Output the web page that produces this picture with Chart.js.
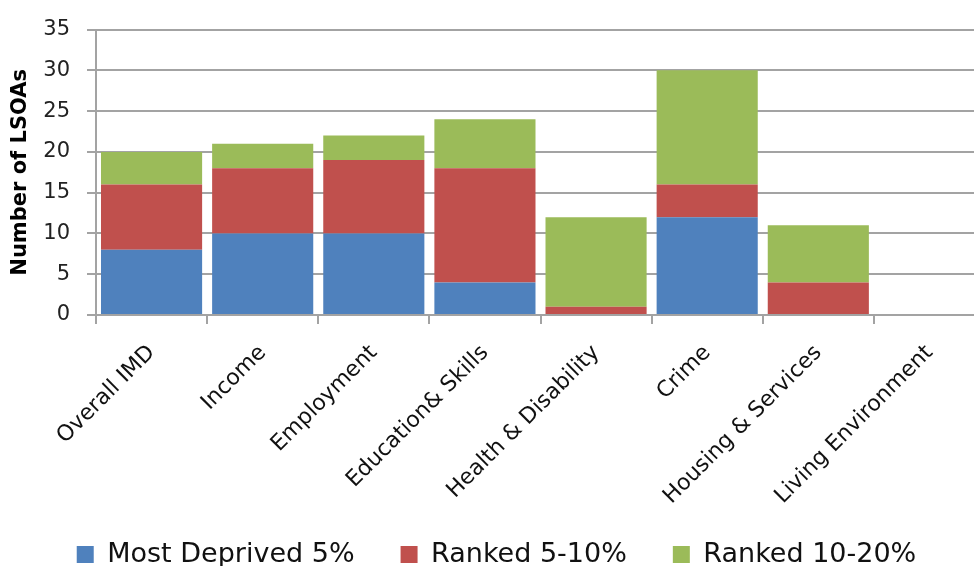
<!DOCTYPE html>
<html>
<head>
<meta charset="utf-8">
<script src="https://cdn.jsdelivr.net/npm/chart.js@4"></script>
<style>
  html, body { margin: 0; padding: 0; background: #fff; overflow: hidden; }
  #wrap { width: 993px; height: 593px; }
</style>
</head>
<body>
<div id="wrap"><canvas id="lsoaChart"></canvas></div>
<script>
const categories = ['Overall IMD', 'Income', 'Employment', 'Education& Skills',
    'Health & Disability', 'Crime', 'Housing & Services', 'Living Environment'];
const mostDeprived5 = [8, 10, 10, 4, 0, 12, 0, 0];
const ranked5to10 = [8, 8, 9, 14, 1, 4, 4, 0];
const ranked10to20 = [4, 3, 3, 6, 11, 14, 7, 0];
const yTicks = [0, 5, 10, 15, 20, 25, 30, 35];

const gridGrey = '#a3a3a3';

// nudge the legend up/right after layout so it sits where the original one does
const legendNudge = {
    id: 'legendNudge',
    afterLayout(chart) {
        const lg = chart.legend;
        if (!lg) return;
        lg.top -= 15; lg.bottom -= 15;
        lg.left += 4; lg.right += 4;
    }
};

const ctx = document.getElementById('lsoaChart').getContext('2d');
const chart = new Chart(ctx, {
    type: 'bar',
    data: {
        labels: categories,
        datasets: [
            { label: 'Most Deprived 5%', data: mostDeprived5, backgroundColor: '#4F81BD' },
            { label: 'Ranked 5-10%', data: ranked5to10, backgroundColor: '#C0504D' },
            { label: 'Ranked 10-20%', data: ranked10to20, backgroundColor: '#9BBB59' }
        ]
    },
    plugins: [legendNudge],
    options: {
        responsive: true,
        maintainAspectRatio: false,
        animation: false,
        datasets: { bar: { barPercentage: 0.91, categoryPercentage: 1 } },
        layout: { padding: { top: 19, right: 8, left: 0, bottom: 0 } },
        plugins: {
            tooltip: { enabled: false },
            legend: {
                position: 'bottom',
                labels: {
                    color: '#111',
                    font: { family: 'DejaVu Sans', size: 27 },
                    boxWidth: 17,
                    boxHeight: 17,
                    padding: 46
                }
            }
        },
        scales: {
            x: {
                stacked: true,
                grid: {
                    drawOnChartArea: false,
                    drawTicks: true,
                    tickLength: 9,
                    color: gridGrey,
                    lineWidth: 2
                },
                border: { color: gridGrey, width: 2 },
                ticks: {
                    color: '#111',
                    font: { family: 'DejaVu Sans', size: 22 },
                    maxRotation: 45,
                    minRotation: 45,
                    padding: 16
                },
                afterFit: (scale) => { scale.height = 195; }
            },
            y: {
                stacked: true,
                min: 0,
                max: 35,
                afterBuildTicks: (scale) => { scale.ticks = yTicks.map(v => ({ value: v })); },
                grid: { color: gridGrey, lineWidth: 2, tickLength: 9 },
                border: { color: gridGrey, width: 2 },
                ticks: {
                    color: '#222',
                    font: { family: 'DejaVu Sans', size: 21 },
                    padding: 17
                },
                title: {
                    display: true,
                    text: 'Number of LSOAs',
                    color: '#000',
                    font: { family: 'DejaVu Sans', size: 21, weight: 'bold' },
                    padding: { top: 8, bottom: 0 }
                },
                afterFit: (scale) => { scale.width = 96; }
            }
        }
    }
});
</script>
</body>
</html>
